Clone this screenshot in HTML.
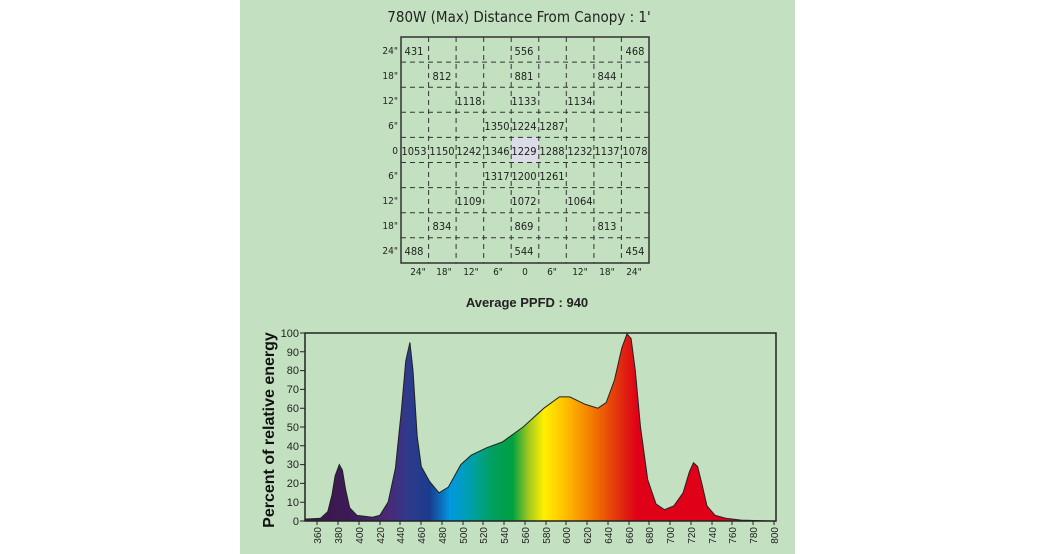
<!DOCTYPE html>
<html><head><style>
body{margin:0;background:#fff;}
svg{display:block;}
.c{font-family:"DejaVu Sans Condensed","Liberation Sans Narrow","Liberation Sans",sans-serif;}
</style></head><body>
<svg width="1037" height="554" xmlns="http://www.w3.org/2000/svg" font-family="Liberation Sans, sans-serif">
<defs>
<linearGradient id="sp" gradientUnits="userSpaceOnUse" x1="305" y1="0" x2="772.4" y2="0">
<stop offset="0" stop-color="#3a1848"/>
<stop offset="0.09" stop-color="#3c1a55"/>
<stop offset="0.18" stop-color="#4a2a78"/>
<stop offset="0.222" stop-color="#2e3a8c"/>
<stop offset="0.267" stop-color="#1a3c8e"/>
<stop offset="0.311" stop-color="#0098e0"/>
<stop offset="0.356" stop-color="#00a0a8"/>
<stop offset="0.4" stop-color="#00a060"/>
<stop offset="0.444" stop-color="#00a040"/>
<stop offset="0.478" stop-color="#a0c820"/>
<stop offset="0.511" stop-color="#fff000"/>
<stop offset="0.556" stop-color="#ffc000"/>
<stop offset="0.622" stop-color="#f07000"/>
<stop offset="0.678" stop-color="#e02810"/>
<stop offset="0.711" stop-color="#e00018"/>
<stop offset="1" stop-color="#e00018"/>
</linearGradient>
</defs>
<rect x="240" y="0" width="555" height="554" fill="#c3e1c0"/>
<text class="c" x="519" y="22" font-size="15" text-anchor="middle" fill="#222">780W (Max) Distance From Canopy : 1'</text>

<g>
<rect x="511.6" y="137.4" width="27.4" height="25.1" fill="#dcdce8"/>
<g stroke="#333" stroke-width="1" stroke-dasharray="5,4">
<line x1="401" y1="62.1" x2="649" y2="62.1"/><line x1="401" y1="87.2" x2="649" y2="87.2"/>
<line x1="401" y1="112.3" x2="649" y2="112.3"/><line x1="401" y1="137.4" x2="649" y2="137.4"/>
<line x1="401" y1="162.5" x2="649" y2="162.5"/><line x1="401" y1="187.6" x2="649" y2="187.6"/>
<line x1="401" y1="212.7" x2="649" y2="212.7"/><line x1="401" y1="237.8" x2="649" y2="237.8"/>
<line x1="428.6" y1="37" x2="428.6" y2="263"/><line x1="456.1" y1="37" x2="456.1" y2="263"/>
<line x1="483.7" y1="37" x2="483.7" y2="263"/><line x1="511.2" y1="37" x2="511.2" y2="263"/>
<line x1="538.8" y1="37" x2="538.8" y2="263"/><line x1="566.3" y1="37" x2="566.3" y2="263"/>
<line x1="593.9" y1="37" x2="593.9" y2="263"/><line x1="621.4" y1="37" x2="621.4" y2="263"/>
</g>
<rect x="401" y="37" width="248" height="226" fill="none" stroke="#333" stroke-width="1.5"/>
<g class="c" font-size="11" fill="#222" text-anchor="middle">
<text x="414" y="55">431</text><text x="524" y="55">556</text><text x="635" y="55">468</text>
<text x="442" y="80">812</text><text x="524" y="80">881</text><text x="607" y="80">844</text>
<text x="469" y="105">1118</text><text x="524" y="105">1133</text><text x="580" y="105">1134</text>
<text x="497" y="130">1350</text><text x="524" y="130">1224</text><text x="552" y="130">1287</text>
<text x="414" y="155">1053</text><text x="442" y="155">1150</text><text x="469" y="155">1242</text><text x="497" y="155">1346</text><text x="524" y="155">1229</text><text x="552" y="155">1288</text><text x="580" y="155">1232</text><text x="607" y="155">1137</text><text x="635" y="155">1078</text>
<text x="497" y="180">1317</text><text x="524" y="180">1200</text><text x="552" y="180">1261</text>
<text x="469" y="205">1109</text><text x="524" y="205">1072</text><text x="580" y="205">1064</text>
<text x="442" y="230">834</text><text x="524" y="230">869</text><text x="607" y="230">813</text>
<text x="414" y="255">488</text><text x="524" y="255">544</text><text x="635" y="255">454</text>
</g>
<g class="c" font-size="10" fill="#222" text-anchor="end">
<text x="398" y="54">24"</text><text x="398" y="79">18"</text><text x="398" y="104">12"</text><text x="398" y="129">6"</text><text x="398" y="154">0</text><text x="398" y="179">6"</text><text x="398" y="204">12"</text><text x="398" y="229">18"</text><text x="398" y="254">24"</text>
</g>
<g class="c" font-size="10" fill="#222" text-anchor="middle">
<text x="418" y="275">24"</text><text x="444" y="275">18"</text><text x="471" y="275">12"</text><text x="498" y="275">6"</text><text x="525" y="275">0</text><text x="552" y="275">6"</text><text x="580" y="275">12"</text><text x="607" y="275">18"</text><text x="634" y="275">24"</text>
</g>
</g>
<text x="527" y="307" font-size="13" font-weight="bold" text-anchor="middle" fill="#222">Average PPFD : 940</text>

<path fill="url(#sp)" stroke="#222" stroke-width="1" d="M305,521 L305,519.1 320.6,518.2 327.8,511.6 332,494.7 335.1,475.9 339.3,464.6 342.4,470.2 345.5,489 349.7,507.8 356.9,515.4 372.5,517.2 379.8,515.4 388.1,502.2 395.4,468.4 401.6,408.2 405.7,361.2 409.9,342.4 413,370.6 417.2,436.4 421.3,466.5 429.6,481.5 439,492.8 448.3,487.2 460.8,464.6 471.2,455.2 486.8,447.7 502.3,442 523.1,427 543.9,408.2 559.5,396.9 569.8,396.9 585.4,404.4 597.9,408.2 606.2,402.6 614.5,380 621.8,348 627,333.9 631.1,338.6 635.3,370.6 640.5,427 647.7,479.6 656.1,504.1 664.4,509.7 673.7,506 683.1,492.8 689.3,472.1 693.5,462.7 697.6,466.5 701.8,483.4 707,506 715.2,515.4 725.6,518.2 741.2,520.1 772.4,521 Z"/>
<rect x="305" y="333" width="471" height="188" fill="none" stroke="#222" stroke-width="1.5"/>
<path stroke="#222" stroke-width="1" d="M300,521h5M300,502.2h5M300,483.4h5M300,464.6h5M300,445.8h5M300,427h5M300,408.2h5M300,389.4h5M300,370.6h5M300,351.8h5M300,333h5
M317,521v4M338,521v4M359,521v4M380,521v4M400,521v4M421,521v4M442,521v4M463,521v4M483,521v4M504,521v4M525,521v4M546,521v4M566,521v4M587,521v4M608,521v4M629,521v4M649,521v4M670,521v4M691,521v4M712,521v4M732,521v4M753,521v4M774,521v4"/>
<g font-size="11" fill="#222" text-anchor="end">
<text x="299" y="525">0</text><text x="299" y="506">10</text><text x="299" y="487">20</text><text x="299" y="468">30</text><text x="299" y="450">40</text><text x="299" y="431">50</text><text x="299" y="412">60</text><text x="299" y="393">70</text><text x="299" y="374">80</text><text x="299" y="356">90</text><text x="299" y="337">100</text>
</g>
<text transform="translate(274,430) rotate(-90)" font-size="16" font-weight="bold" text-anchor="middle" fill="#111">Percent of relative energy</text>
<g font-size="10" fill="#222" text-anchor="end">
<text transform="translate(321,527) rotate(-90)">360</text>
<text transform="translate(342,527) rotate(-90)">380</text>
<text transform="translate(363,527) rotate(-90)">400</text>
<text transform="translate(384,527) rotate(-90)">420</text>
<text transform="translate(404,527) rotate(-90)">440</text>
<text transform="translate(425,527) rotate(-90)">460</text>
<text transform="translate(446,527) rotate(-90)">480</text>
<text transform="translate(467,527) rotate(-90)">500</text>
<text transform="translate(487,527) rotate(-90)">520</text>
<text transform="translate(508,527) rotate(-90)">540</text>
<text transform="translate(529,527) rotate(-90)">560</text>
<text transform="translate(550,527) rotate(-90)">580</text>
<text transform="translate(570,527) rotate(-90)">600</text>
<text transform="translate(591,527) rotate(-90)">620</text>
<text transform="translate(612,527) rotate(-90)">640</text>
<text transform="translate(633,527) rotate(-90)">660</text>
<text transform="translate(653,527) rotate(-90)">680</text>
<text transform="translate(674,527) rotate(-90)">700</text>
<text transform="translate(695,527) rotate(-90)">720</text>
<text transform="translate(716,527) rotate(-90)">740</text>
<text transform="translate(736,527) rotate(-90)">760</text>
<text transform="translate(757,527) rotate(-90)">780</text>
<text transform="translate(778,527) rotate(-90)">800</text>
</g>
</svg>
</body></html>
